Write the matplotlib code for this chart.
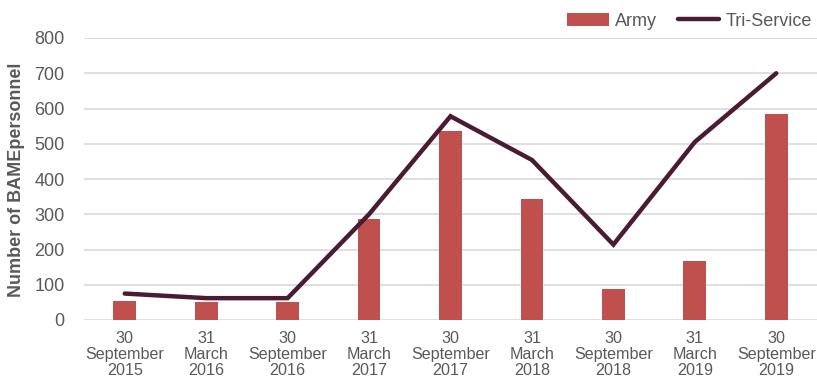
import matplotlib
matplotlib.use("Agg")
import matplotlib.pyplot as plt
from matplotlib.patches import Patch
from matplotlib.lines import Line2D

plt.rcParams['font.family'] = ['Liberation Sans', 'DejaVu Sans']

categories = ["30\nSeptember\n2015", "31\nMarch\n2016", "30\nSeptember\n2016",
              "31\nMarch\n2017", "30\nSeptember\n2017", "31\nMarch\n2018",
              "30\nSeptember\n2018", "31\nMarch\n2019", "30\nSeptember\n2019"]
army = [55, 50, 50, 287, 535, 344, 87, 168, 583]
tri_service = [75, 62, 62, 300, 578, 454, 214, 505, 700]
y_ticks = [0, 100, 200, 300, 400, 500, 600, 700, 800]

bar_color = "#C0504D"
line_color = "#4B1A33"
text_color = "#595959"

fig = plt.figure(figsize=(8.17, 3.81), dpi=100)
ax = fig.add_axes([84 / 817, 1 - 320 / 381, (817 - 84) / 817, (320 - 38) / 381])

x = list(range(len(categories)))
ax.bar(x, army, width=0.28, color=bar_color, zorder=2)
ax.plot(x, tri_service, color=line_color, lw=3.2, solid_capstyle='round',
        solid_joinstyle='miter', zorder=3)

ax.set_xlim(-0.5, len(categories) - 0.5)
ax.set_ylim(0, 800)
ax.set_yticks(y_ticks)
ax.set_yticklabels([str(v) for v in y_ticks], fontsize=13, color=text_color)
ax.set_xticks(x)
ax.set_xticklabels(categories, fontsize=11.6, color=text_color, linespacing=1.08)
ax.tick_params(axis='both', length=0)
ax.tick_params(axis='y', pad=14)
ax.tick_params(axis='x', pad=8)

ax.grid(axis='y', color="#D9D9D9", lw=1.2, zorder=0)
ax.set_axisbelow(True)
for s in ax.spines.values():
    s.set_visible(False)

fig.text(17 / 817, 1 - 180 / 381, "Number of BAMEpersonnel", rotation=90,
         fontsize=13, fontweight='bold', color=text_color,
         ha='center', va='center')

handles = [Patch(facecolor=bar_color, label="Army"),
           Line2D([0], [0], color=line_color, lw=3.2, solid_capstyle='round', label="Tri-Service")]
fig.legend(handles=handles, loc='center right', bbox_to_anchor=(812 / 817, 1 - 21 / 381),
           ncol=2, frameon=False, fontsize=13, labelcolor=text_color,
           handlelength=2.3, handleheight=0.7, handletextpad=0.35, columnspacing=1.15,
           borderaxespad=0.0, borderpad=0.0)

fig.savefig("out.png", dpi=100)
